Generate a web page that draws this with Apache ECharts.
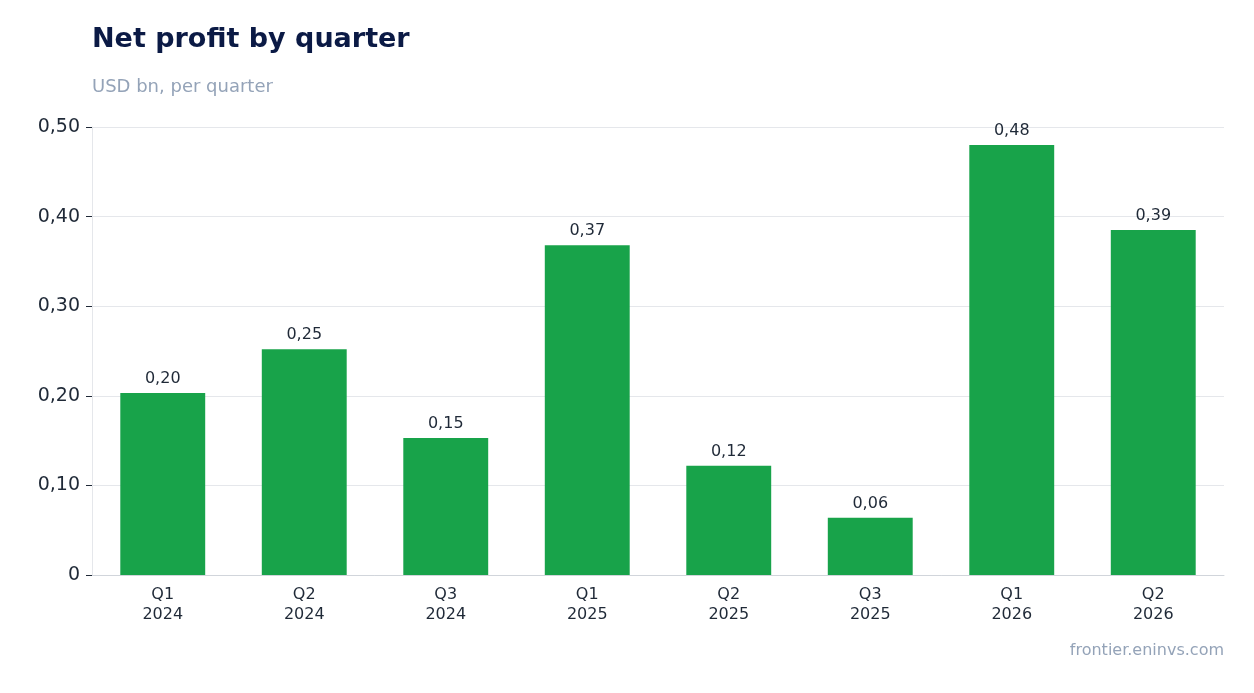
<!DOCTYPE html>
<html><head><meta charset="utf-8">
<script src="https://cdn.jsdelivr.net/npm/echarts@6/dist/echarts.min.js"></script>
<style>html,body{margin:0;padding:0;background:#fff}#c{width:1254px;height:693px}</style>
</head><body><div id="c"></div>
<script>
const categories = ['Q1\n2024', 'Q2\n2024', 'Q3\n2024', 'Q1\n2025', 'Q2\n2025', 'Q3\n2025', 'Q1\n2026', 'Q2\n2026'];
const profit = [0.203, 0.252, 0.153, 0.368, 0.122, 0.064, 0.480, 0.385];
const yTicks = [0, 0.1, 0.2, 0.3, 0.4, 0.5];

const fmt = v => v === 0 ? '0' : v.toFixed(2).replace('.', ',');
const font = 'DejaVu Sans, sans-serif';

const chart = echarts.init(document.getElementById('c'));
chart.setOption({
    animation: false,
    title: [
        { text: 'Net profit by quarter', left: 92, top: 26, padding: 0,
          textStyle: { fontFamily: font, fontSize: 27, fontWeight: 'bold', color: '#0b1a45' } },
        { text: 'USD bn, per quarter', left: 92, top: 78, padding: 0,
          textStyle: { fontFamily: font, fontSize: 18, fontWeight: 'normal', color: '#94a3b8' } },
        { text: 'frontier.eninvs.com', right: 30, top: 643, padding: 0,
          textStyle: { fontFamily: font, fontSize: 16, fontWeight: 'normal', color: '#94a3b8' } }
    ],
    grid: { left: 92, right: 30, top: 127, bottom: 118, containLabel: false },
    xAxis: {
        type: 'category', data: categories,
        axisLine: { lineStyle: { color: '#d1d5db' } },
        axisTick: { alignWithLabel: true, lineStyle: { color: '#1f2937' }, length: 5 },
        axisLabel: { fontFamily: font, fontSize: 16, color: '#1f2937', lineHeight: 20, margin: 10 }
    },
    yAxis: {
        type: 'value', min: 0, max: 0.5, interval: 0.1,
        axisLine: { show: true, lineStyle: { color: '#e5e7eb' } },
        axisTick: { show: true, length: 6, lineStyle: { color: '#1f2937' } },
        splitLine: { lineStyle: { color: '#e5e7eb' } },
        axisLabel: { fontFamily: font, fontSize: 19, color: '#1f2937', margin: 12,
                     formatter: v => fmt(yTicks.find(t => Math.abs(t - v) < 1e-9) ?? v) }
    },
    series: [{
        type: 'bar', data: profit, barWidth: '60%',
        itemStyle: { color: '#18a34a' },
        label: { show: true, position: 'top', distance: 6, fontFamily: font, fontSize: 16,
                 color: '#1f2937', formatter: p => fmt(p.value) }
    }]
});
</script></body></html>
